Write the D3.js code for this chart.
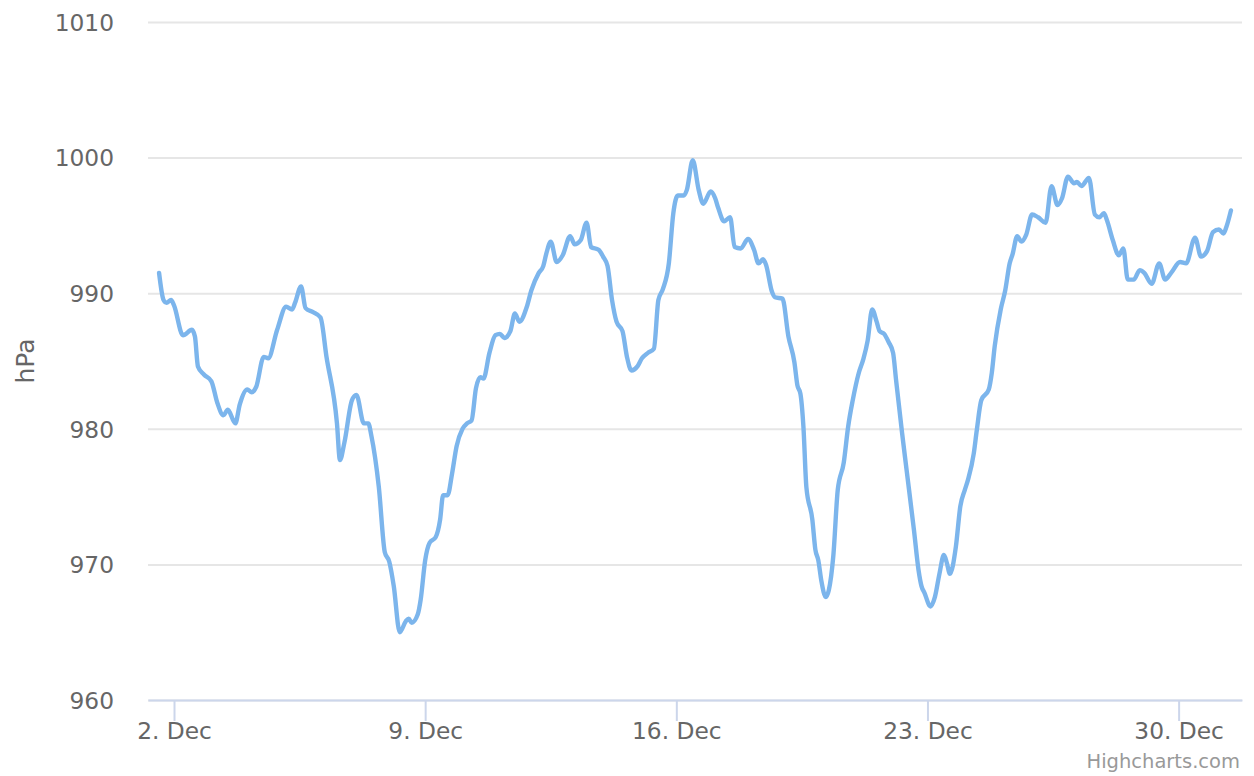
<!DOCTYPE html>
<html>
<head>
<meta charset="utf-8">
<script src="https://cdn.jsdelivr.net/npm/d3@7"></script>
<style>
    body { margin: 0; background: #fff; }
    svg { display: block; font-family: "DejaVu Sans", sans-serif; }
</style>
</head>
<body>
<svg id="chart" width="1254" height="776"></svg>
<script>
// Hours since 1 Dec 00:00 UTC
const hours = [
    14, 17, 19, 22, 24, 30, 36, 38, 40, 44,
    49, 53, 57, 60, 65, 68, 73, 76, 79, 84,
    87, 93, 99, 103, 105, 109, 112, 117, 122, 126,
    133, 135, 138, 143, 146, 151, 154, 156, 161, 165,
    168, 171, 175, 179, 181, 183, 187, 189, 192, 195,
    199, 202, 204, 207, 210, 213, 217, 220, 223, 226,
    229, 231, 235, 239, 242, 245, 249, 252, 255, 260,
    263, 268, 271, 273, 276, 280, 284, 289, 292, 296,
    300, 303, 308, 311, 314, 317, 320, 324, 327, 330,
    334, 337, 341, 345, 348, 351, 355, 358, 361, 365,
    367, 371, 375, 378, 383, 386, 388, 392, 396, 399,
    403, 408, 412, 415, 418, 420, 424, 426, 431, 435,
    439, 441, 443, 445, 447, 451, 453, 455, 457, 460,
    462, 465, 468, 472, 475, 478, 482, 485, 488, 491,
    494, 496, 499, 502, 505, 507, 511, 514, 519, 522,
    524, 526, 530, 533, 536, 539, 541, 543, 547, 550,
    553, 555, 559, 561, 564, 569, 571, 573, 577, 580,
    583, 585, 588, 591, 594, 598, 602, 607, 611, 615,
    618, 622, 626, 628, 631, 636, 640, 643, 646, 648,
    652, 656, 659, 662, 666, 670, 673, 678, 683, 687,
    691, 697, 701, 707, 711, 715, 719, 723, 726, 728,
    731
];

// Pressure in hPa
const pressure = [
    991.5, 989.5, 989.3, 989.5, 989.1, 986.9, 987.3, 986.8, 984.6, 984.0,
    983.5, 981.9, 981.0, 981.4, 980.4, 981.8, 982.9, 982.7, 983.1, 985.3,
    985.2, 987.3, 989.0, 988.8, 989.3, 990.5, 988.9, 988.6, 988.2, 985.3,
    980.4, 977.7, 979.0, 982.1, 982.5, 980.4, 980.4, 979.5, 975.7, 970.9,
    970.2, 968.4, 965.0, 965.8, 966.0, 965.7, 966.3, 967.4, 970.3, 971.6,
    972.0, 973.3, 975.1, 975.1, 976.7, 978.7, 980.0, 980.4, 980.6, 983.0,
    983.8, 983.7, 985.6, 986.9, 987.0, 986.7, 987.2, 988.5, 987.9, 989.0,
    990.2, 991.5, 992.0, 992.9, 993.8, 992.3, 992.8, 994.2, 993.6, 993.9,
    995.2, 993.4, 993.2, 992.7, 992.0, 989.5, 987.9, 987.2, 985.3, 984.3,
    984.6, 985.2, 985.6, 985.9, 989.5, 990.3, 992.2, 995.9, 997.2, 997.2,
    997.6, 999.8, 997.6, 996.6, 997.5, 997.0, 996.3, 995.3, 995.6, 993.4,
    993.3, 994.0, 993.2, 992.2, 992.5, 992.1, 990.1, 989.7, 989.6, 986.8,
    984.9, 983.2, 982.6, 980.2, 975.7, 973.3, 971.1, 970.3, 968.8, 967.6,
    968.1, 970.6, 975.5, 977.5, 980.2, 982.1, 984.1, 985.1, 986.5, 988.8,
    987.9, 987.2, 987.0, 986.4, 985.6, 983.6, 979.7, 977.0, 972.5, 969.6,
    968.4, 967.9, 966.9, 967.6, 969.3, 970.7, 970.1, 969.3, 971.3, 974.3,
    975.5, 976.2, 978.2, 979.9, 982.1, 982.9, 984.1, 986.1, 988.8, 990.2,
    992.2, 992.9, 994.2, 993.8, 994.3, 995.8, 995.6, 995.2, 997.9, 996.5,
    997.0, 998.6, 998.1, 998.2, 997.9, 998.5, 995.8, 995.6, 995.9, 995.4,
    993.9, 992.8, 993.3, 991.0, 991.0, 991.7, 991.5, 990.7, 992.2, 991.0,
    991.5, 992.3, 992.2, 994.1, 992.7, 993.1, 994.5, 994.7, 994.4, 994.9,
    996.1
];

const yTicks = [960, 970, 980, 990, 1000, 1010];
const tickDays = [2, 9, 16, 23, 30];   // day of December
const axisTitle = 'hPa';
const creditText = 'Highcharts.com';

const MONTH_START = Date.UTC(2018, 11, 1);
const HOUR = 3600 * 1000;
const toDate = h => new Date(MONTH_START + h * HOUR);

const plot = { left: 148, right: 1242, top: 22, bottom: 700 };

const svg = d3.select('#chart');

const x = d3.scaleUtc()
    .domain([toDate(6.6), toDate(738.4)])
    .range([plot.left, plot.right]);

const y = d3.scaleLinear()
    .domain([960, 1010])
    .range([plot.bottom, plot.top]);

// Grid + y labels
const yAxis = svg.append('g')
    .attr('transform', `translate(${plot.left},0)`)
    .call(d3.axisLeft(y)
        .tickValues(yTicks)
        .tickSize(-(plot.right - plot.left))
        .tickPadding(34)
        .tickFormat(d3.format('d')));
yAxis.select('.domain').remove();
yAxis.selectAll('line').attr('stroke', '#e6e6e6').attr('stroke-width', 2);
yAxis.selectAll('text')
    .attr('fill', '#666666')
    .attr('font-size', '23.3px')
    .attr('font-family', '"DejaVu Sans", sans-serif')
    .attr('dy', '0.36em');

// X axis
const xAxis = svg.append('g')
    .attr('transform', `translate(0,${plot.bottom})`)
    .call(d3.axisBottom(x)
        .tickValues(tickDays.map(d => toDate((d - 1) * 24)))
        .tickSize(21)
        .tickSizeOuter(0)
        .tickPadding(1)
        .tickFormat(d3.utcFormat('%-d. %b')));
xAxis.select('.domain').attr('stroke', '#ccd6eb').attr('stroke-width', 2);
xAxis.selectAll('line').attr('stroke', '#ccd6eb').attr('stroke-width', 2);
xAxis.selectAll('text')
    .attr('fill', '#666666')
    .attr('font-size', '23.3px')
    .attr('font-family', '"DejaVu Sans", sans-serif');

// Pressure line
const series = hours.map((h, i) => ({ date: toDate(h), value: pressure[i] }));

const line = d3.line()
    .x(d => x(d.date))
    .y(d => y(d.value))
    .curve(d3.curveMonotoneX);

svg.append('path')
    .datum(series)
    .attr('d', line)
    .attr('fill', 'none')
    .attr('stroke', '#7cb5ec')
    .attr('stroke-width', 4.4)
    .attr('stroke-linejoin', 'round')
    .attr('stroke-linecap', 'round');

// Axis title
svg.append('text')
    .attr('transform', `translate(25,${(plot.top + plot.bottom) / 2}) rotate(-90)`)
    .attr('text-anchor', 'middle')
    .attr('dominant-baseline', 'central')
    .attr('fill', '#666666')
    .attr('font-size', '25px')
    .text(axisTitle);

// Credits
svg.append('text')
    .attr('x', 1240)
    .attr('y', 768)
    .attr('text-anchor', 'end')
    .attr('fill', '#999999')
    .attr('font-size', '19.5px')
    .text(creditText);
</script>
</body>
</html>
